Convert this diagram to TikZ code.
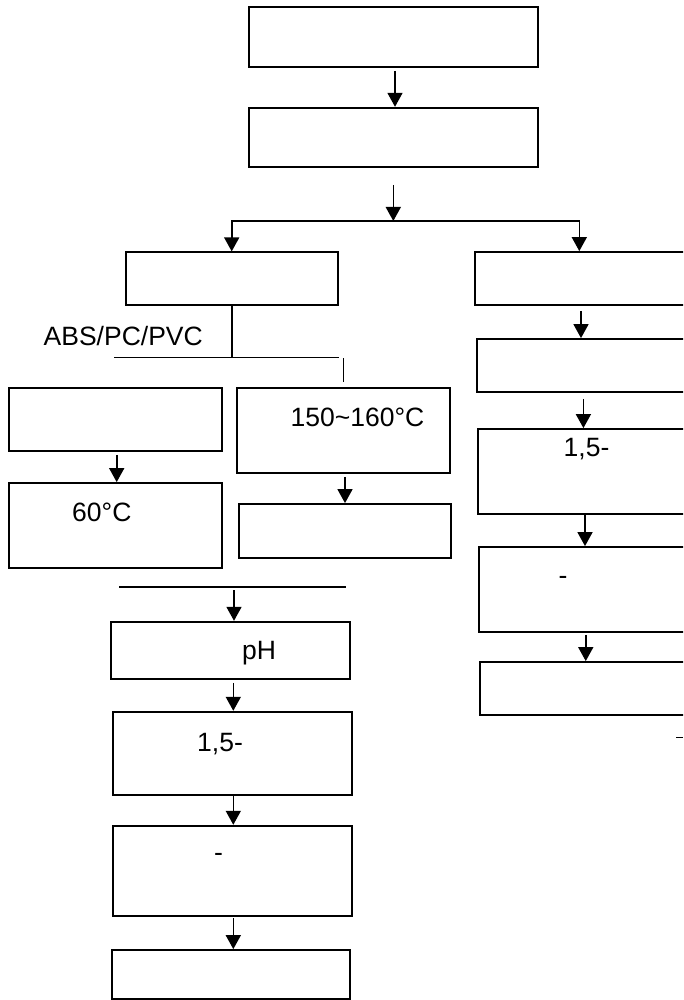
\documentclass[tikz,border=0pt]{standalone}
\usepackage{fontspec}
\setmainfont{Liberation Sans}
\usetikzlibrary{arrows.meta}
\begin{document}
\begin{tikzpicture}[x=1pt,y=-1pt,
  box/.style={draw, line width=1.8pt, inner sep=0pt},
  arr/.style={line width=1.6pt, -{Triangle[length=14pt,width=15pt]}},
  ln/.style={line width=1.6pt},
  txt/.style={inner sep=0pt, font=\fontsize{26.5}{32}\selectfont}]
\useasboundingbox (0,0) rectangle (683,1000);
\clip (0,0) rectangle (683,1000);
% top boxes
\node[box, minimum width=288.4pt, minimum height=59.4pt] (A) at (393.5,37) {};
\node[box, minimum width=288.4pt, minimum height=59pt] (B) at (393.5,137.2) {};
\node[box, minimum width=212pt, minimum height=53pt] (C) at (231.7,278.8) {};
% right column
\node[box, minimum width=225pt, minimum height=53pt] (R1) at (587.5,278.5) {};
\node[box, minimum width=223pt, minimum height=53pt] (R2) at (588.5,365.5) {};
\node[box, minimum width=222.4pt, minimum height=85pt] (R3) at (588.8,471.5) {};
\node[box, minimum width=220.7pt, minimum height=85pt] (R4) at (589.65,589.5) {};
\node[box, minimum width=219.7pt, minimum height=53pt] (R5) at (590.15,688.5) {};
% left / middle
\node[box, minimum width=212.4pt, minimum height=63pt] (L1) at (115.5,419.5) {};
\node[box, minimum width=212.4pt, minimum height=85pt] (L2) at (115.5,525.5) {};
\node[box, minimum width=213pt, minimum height=85pt] (M1) at (343.5,430.5) {};
\node[box, minimum width=212pt, minimum height=54pt] (M2) at (345,531) {};
% lower column
\node[box, minimum width=239pt, minimum height=57.3pt] (P1) at (230.5,650.35) {};
\node[box, minimum width=239pt, minimum height=83.3pt] (P2) at (232.2,753.35) {};
\node[box, minimum width=239pt, minimum height=90.3pt] (P3) at (232.2,870.85) {};
\node[box, minimum width=238.3pt, minimum height=49pt] (P4) at (230.85,974.5) {};
% texts
\node[txt, anchor=base west] (tabs) at (43.5,345.5) {ABS/PC/PVC};
\node[txt, anchor=base west] (tm1) at (290.5,426) {150\textasciitilde160°C};
\node[txt, anchor=base west] (tl2) at (72,521.5) {60°C};
\node[txt, anchor=base west] (tp1) at (242,659) {pH};
\node[txt, anchor=base west] (tp2) at (197,751) {1,5-};
\node[txt, anchor=base west] (tp3) at (214,861) {-};
\node[txt, anchor=base west] (tr3) at (563.5,456) {1,5-};
\node[txt, anchor=base west] (tr4) at (558.5,584) {-};
% junction coordinates
\coordinate (J) at (393.3,221);
\coordinate (JR) at (579.3,221);
\coordinate (K) at (231.7,357.3);
\coordinate (KL) at (114,357.3);
\coordinate (KR) at (339.3,357.3);
\coordinate (V1) at (343.3,358);
\coordinate (V2) at (343.3,382);
\coordinate (GL) at (119.3,587);
\coordinate (GR) at (346,587);
\coordinate (G) at (234,590);
\coordinate (D1) at (676,737.5);
\coordinate (D2) at (683,737.5);
% connectors
\draw[arr] ([xshift=1.5pt,yshift=-3.3pt]A.south) -- ([xshift=1.5pt]B.north);
\draw[arr] ([yshift=-17.3pt]B.south -| J) -- (J);
\draw[arr] (J) -| (C.north);
\draw[arr] (J) -- (JR) -- (JR |- R1.north);
\draw[arr] ([xshift=-6.5pt,yshift=-5pt]R1.south) coordinate (r1) -- (r1 |- R2.north);
\draw[arr] ([xshift=-5.1pt,yshift=-6pt]R2.south) coordinate (r2) -- (r2 |- R3.north);
\draw[arr] ([xshift=-3.8pt]R3.south) coordinate (r3) -- (r3 |- R4.north);
\draw[arr] ([xshift=-3.9pt,yshift=-2pt]R4.south) coordinate (r4) -- (r4 |- R5.north);
\draw[ln] (C.south) -- (K);
\draw[ln] (KL) -- (KR);
\draw[ln] (V1) -- (V2);
\draw[arr] ([xshift=1.2pt,yshift=-3pt]L1.south) coordinate (l1) -- (l1 |- L2.north);
\draw[arr] ([xshift=1.5pt,yshift=-3pt]M1.south) coordinate (m1) -- (m1 |- M2.north);
\draw[ln] (GL) -- (GR);
\draw[arr] (G) -- (G |- P1.north);
\draw[arr] ([xshift=2.8pt,yshift=-3pt]P1.south) coordinate (p1) -- (p1 |- P2.north);
\draw[arr] ([xshift=1.1pt]P2.south) coordinate (p2) -- (p2 |- P3.north);
\draw[arr] ([xshift=1.1pt,yshift=-1.5pt]P3.south) coordinate (p3) -- (p3 |- P4.north);
\draw[ln] (D1) -- (D2);
\end{tikzpicture}
\end{document}
